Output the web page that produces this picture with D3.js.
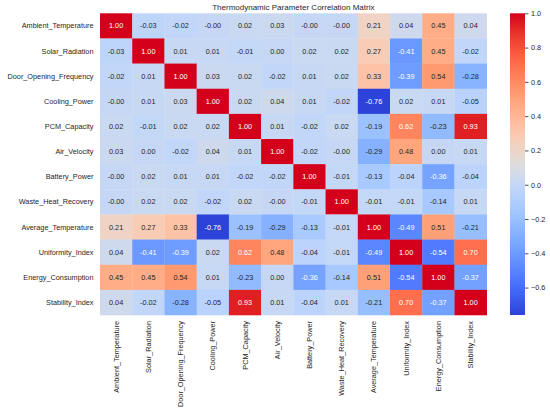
<!DOCTYPE html>
<html>
<head>
<meta charset="utf-8">
<script src="https://cdn.jsdelivr.net/npm/d3@7"></script>
<style>
  body { margin: 0; background: #fff; }
  svg text { font-family: "Liberation Sans", Arial, sans-serif; fill: #262626; }
</style>
</head>
<body>
<div id="chart"></div>
<script>
// variable names (rows and columns share the same order)
var variables = ["Ambient_Temperature", "Solar_Radiation", "Door_Opening_Frequency",
  "Cooling_Power", "PCM_Capacity", "Air_Velocity", "Battery_Power",
  "Waste_Heat_Recovery", "Average_Temperature", "Uniformity_Index",
  "Energy_Consumption", "Stability_Index"];

// correlation rows, as printed in the cells
var ambientRow     = [1.00, -0.03, -0.02, -0.00, 0.02, 0.03, -0.00, -0.00, 0.21, 0.04, 0.45, 0.04];
var solarRow       = [-0.03, 1.00, 0.01, 0.01, -0.01, 0.00, 0.02, 0.02, 0.27, -0.41, 0.45, -0.02];
var doorRow        = [-0.02, 0.01, 1.00, 0.03, 0.02, -0.02, 0.01, 0.02, 0.33, -0.39, 0.54, -0.28];
var coolingRow     = [-0.00, 0.01, 0.03, 1.00, 0.02, 0.04, 0.01, -0.02, -0.76, 0.02, 0.01, -0.05];
var pcmRow         = [0.02, -0.01, 0.02, 0.02, 1.00, 0.01, -0.02, 0.02, -0.19, 0.62, -0.23, 0.93];
var airRow         = [0.03, 0.00, -0.02, 0.04, 0.01, 1.00, -0.02, -0.00, -0.29, 0.48, 0.00, 0.01];
var batteryRow     = [-0.00, 0.02, 0.01, 0.01, -0.02, -0.02, 1.00, -0.01, -0.13, -0.04, -0.36, -0.04];
var wasteRow       = [-0.00, 0.02, 0.02, -0.02, 0.02, -0.00, -0.01, 1.00, -0.01, -0.01, -0.14, 0.01];
var avgTempRow     = [0.21, 0.27, 0.33, -0.76, -0.19, -0.29, -0.13, -0.01, 1.00, -0.49, 0.51, -0.21];
var uniformityRow  = [0.04, -0.41, -0.39, 0.02, 0.62, 0.48, -0.04, -0.01, -0.49, 1.00, -0.54, 0.70];
var energyRow      = [0.45, 0.45, 0.54, 0.01, -0.23, 0.00, -0.36, -0.14, 0.51, -0.54, 1.00, -0.37];
var stabilityRow   = [0.04, -0.02, -0.28, -0.05, 0.93, 0.01, -0.04, 0.01, -0.21, 0.70, -0.37, 1.00];

var matrix = [ambientRow, solarRow, doorRow, coolingRow, pcmRow, airRow, batteryRow,
  wasteRow, avgTempRow, uniformityRow, energyRow, stabilityRow];

var colorbarTicks = [-0.6, -0.4, -0.2, 0.0, 0.2, 0.4, 0.6, 0.8, 1.0];

(function() {
  var width = 550, height = 416;
  var left = 100, top = 13.3, right = 486.7, bottom = 315;

  // coolwarm colormap stops (Moreland)
  var coolwarm = [[59,76,192],[68,90,204],[77,104,215],[87,117,225],[98,130,234],
    [108,142,241],[119,154,247],[130,165,251],[141,176,254],[152,185,255],[163,194,255],
    [174,201,253],[184,208,249],[194,213,244],[204,217,238],[213,219,230],[221,221,221],
    [229,216,209],[236,211,197],[241,204,185],[245,196,173],[247,187,160],[247,177,148],
    [247,166,135],[244,154,123],[241,141,111],[236,127,99],[229,112,88],[222,96,77],
    [213,80,66],[203,62,56],[192,40,47],[180,4,38]];

  // the picture is a bit more vivid than plain coolwarm, push channels away from grey
  var boost = 1.3;
  function vivid(c) {
    var m = (c[0] + c[1] + c[2]) / 3;
    var f = function(v) { return Math.max(0, Math.min(255, m + boost * (v - m))); };
    return d3.rgb(f(c[0]), f(c[1]), f(c[2]));
  }

  var cmap = d3.scaleLinear()
    .domain(coolwarm.map(function(d, i) { return i / (coolwarm.length - 1); }))
    .range(coolwarm.map(vivid))
    .interpolate(d3.interpolateRgb)
    .clamp(true);

  var all = d3.merge(matrix);
  var vmin = d3.min(all), vmax = d3.max(all);
  var norm = d3.scaleLinear().domain([vmin, vmax]).range([0, 1]);
  var color = function(v) { return cmap(norm(v)); };

  // text colour like seaborn: dark on light cells, white on dark ones
  function luminance(c) {
    var rgb = d3.rgb(c);
    var f = function(x) { x /= 255; return x <= 0.03928 ? x / 12.92 : Math.pow((x + 0.055) / 1.055, 2.4); };
    return 0.2126 * f(rgb.r) + 0.7152 * f(rgb.g) + 0.0722 * f(rgb.b);
  }
  function fmt(v) {
    var neg = v < 0 || Object.is(v, -0);
    return (neg ? "-" : "") + Math.abs(v).toFixed(2);
  }

  var x = d3.scaleBand().domain(variables).range([left, right]);
  var y = d3.scaleBand().domain(variables).range([top, bottom]);

  var svg = d3.select("#chart").append("svg")
    .attr("width", width)
    .attr("height", height);

  var cells = [];
  matrix.forEach(function(row, i) {
    row.forEach(function(v, j) {
      cells.push({row: variables[i], col: variables[j], value: v});
    });
  });

  var cell = svg.append("g").selectAll("g")
    .data(cells)
    .enter().append("g");

  cell.append("rect")
    .attr("x", function(d) { return x(d.col); })
    .attr("y", function(d) { return y(d.row); })
    .attr("width", x.bandwidth() + 0.3)
    .attr("height", y.bandwidth() + 0.3)
    .attr("fill", function(d) { return color(d.value); });

  cell.append("text")
    .attr("x", function(d) { return x(d.col) + x.bandwidth() / 2; })
    .attr("y", function(d) { return y(d.row) + y.bandwidth() / 2; })
    .attr("dy", "0.35em")
    .attr("text-anchor", "middle")
    .style("font-size", "7.3px")
    .style("fill", function(d) { return luminance(color(d.value)) > 0.408 ? "#262626" : "#ffffff"; })
    .text(function(d) { return fmt(d.value); });

  // row labels
  svg.append("g").selectAll("text")
    .data(variables)
    .enter().append("text")
    .attr("x", left - 6.5)
    .attr("y", function(d) { return y(d) + y.bandwidth() / 2; })
    .attr("dy", "0.35em")
    .attr("text-anchor", "end")
    .style("font-size", "7.3px")
    .text(function(d) { return d; });

  // column labels, rotated
  svg.append("g").selectAll("text")
    .data(variables)
    .enter().append("text")
    .attr("transform", function(d) {
      return "translate(" + (x(d) + x.bandwidth() / 2) + "," + (bottom + 6) + ") rotate(-90)";
    })
    .attr("dy", "0.35em")
    .attr("text-anchor", "end")
    .style("font-size", "7.3px")
    .text(function(d) { return d; });

  // title
  svg.append("text")
    .attr("x", (left + right) / 2)
    .attr("y", 9.5)
    .attr("text-anchor", "middle")
    .style("font-size", "8px")
    .text("Thermodynamic Parameter Correlation Matrix");

  // colorbar
  var cbX = 510, cbW = 15;
  var cbScale = d3.scaleLinear().domain([vmin, vmax]).range([bottom, top]);
  var grad = svg.append("defs").append("linearGradient")
    .attr("id", "cbgrad")
    .attr("x1", 0).attr("y1", 1).attr("x2", 0).attr("y2", 0);
  d3.range(0, 1.0001, 1 / 32).forEach(function(t) {
    grad.append("stop")
      .attr("offset", t)
      .attr("stop-color", cmap(t));
  });
  svg.append("rect")
    .attr("x", cbX)
    .attr("y", top)
    .attr("width", cbW)
    .attr("height", bottom - top)
    .attr("fill", "url(#cbgrad)");

  var cbAxis = svg.append("g")
    .attr("transform", "translate(" + (cbX + cbW) + ",0)")
    .call(d3.axisRight(cbScale).tickValues(colorbarTicks).tickSize(3.5).tickPadding(2.5)
      .tickFormat(d3.format(".1f")));
  cbAxis.select(".domain").remove();
  cbAxis.selectAll("line").attr("stroke", "#262626").attr("stroke-width", 0.8);
  cbAxis.selectAll("text")
    .style("font-size", "7.3px")
    .style("font-family", "'Liberation Sans', Arial, sans-serif")
    .attr("fill", "#262626");
})();
</script>
</body>
</html>
